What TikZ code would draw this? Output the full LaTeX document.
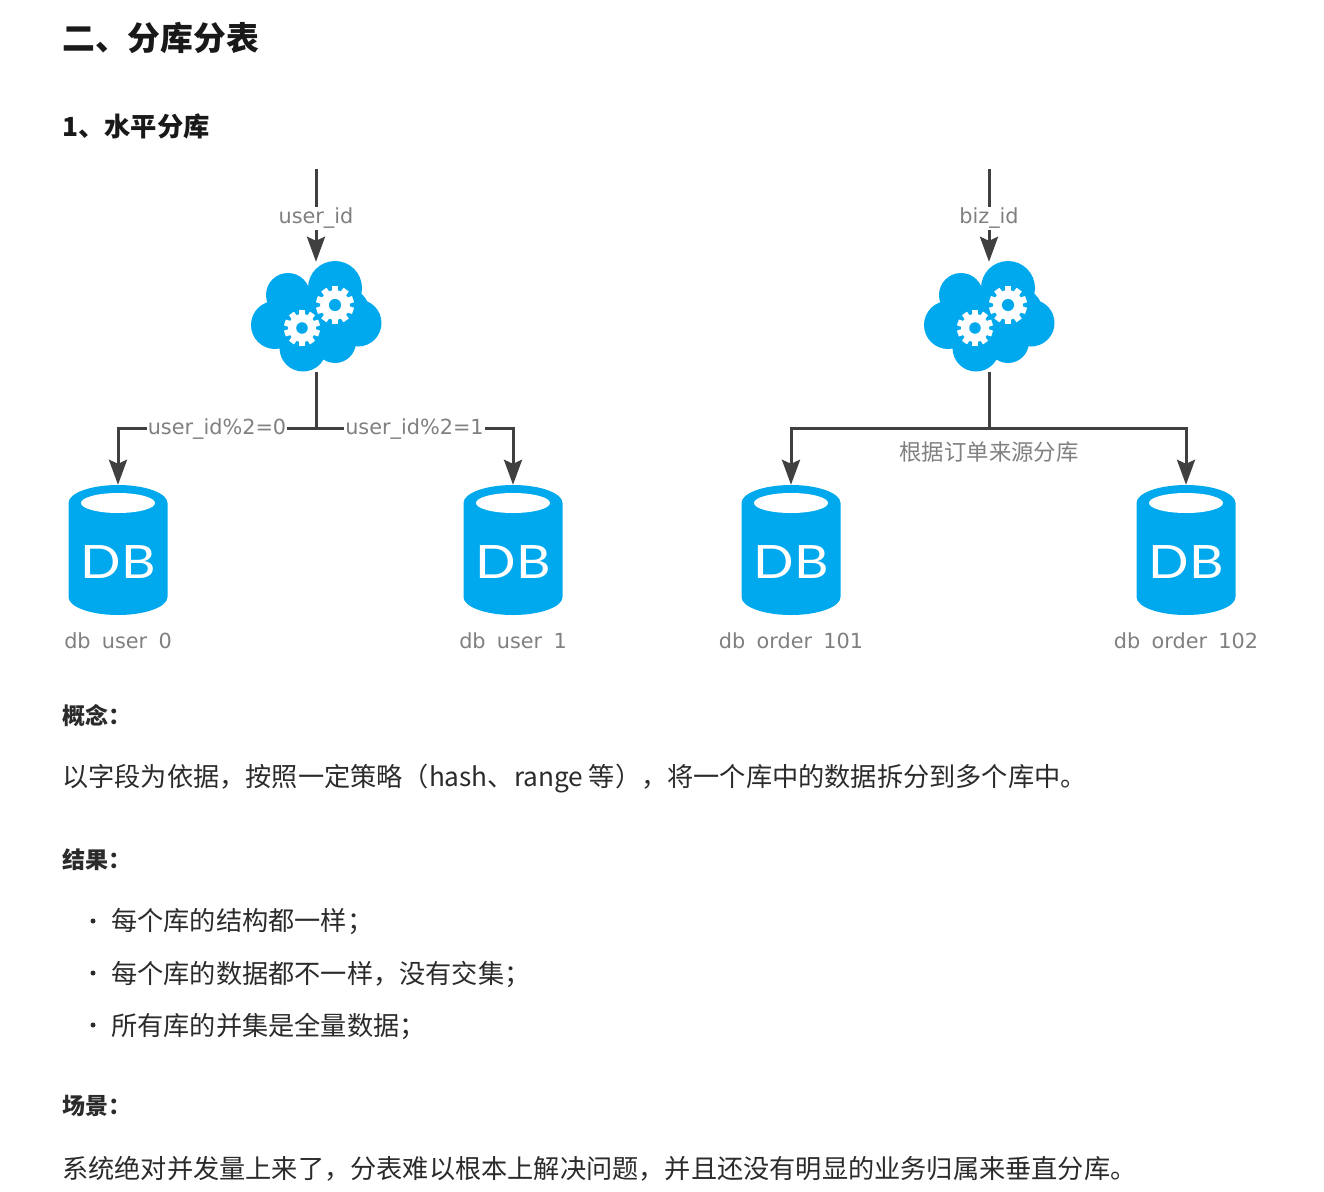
\documentclass[tikz,border=0pt]{standalone}
\usepackage{fontspec}
\setmainfont{Noto Sans CJK SC}
\newfontfamily\labelfont[WordSpace=1.7]{DejaVu Sans}
\newfontfamily\iconfont{Lato}
\usepackage{xcolor}
\usetikzlibrary{arrows.meta, positioning}
\definecolor{iconblue}{HTML}{00A9EE}
\definecolor{labelgray}{HTML}{808080}
\definecolor{bodytext}{HTML}{2B2B2B}
\tikzstyle{cloudbox} = [rectangle, minimum width=130pt, minimum height=110pt, inner sep=0pt]
\tikzstyle{dbbox} = [rectangle, minimum width=99pt, minimum height=130pt, inner sep=0pt, text=white, font=\iconfont\fontsize{46}{46}\selectfont]
\tikzstyle{dbname} = [text=labelgray, font=\labelfont\fontsize{20.8}{20}\selectfont]
\tikzstyle{linelabel} = [fill=white, text=labelgray, inner sep=1pt, font=\labelfont\fontsize{20.8}{20}\selectfont]
\tikzstyle{cnlabel} = [fill=white, text=labelgray, inner sep=1pt, font=\fontsize{22.4}{22}\selectfont]
\tikzstyle{title} = [anchor=west, inner sep=0pt, text=black!90, font=\bfseries\fontsize{32.8}{32}\selectfont]
\tikzstyle{subtitle} = [anchor=west, inner sep=0pt, text=black!90, font=\bfseries\fontsize{26.3}{26}\selectfont]
\tikzstyle{heading} = [anchor=west, inner sep=0pt, text=bodytext, font=\bfseries\fontsize{23}{23}\selectfont]
\tikzstyle{body} = [anchor=west, inner sep=0pt, text=bodytext, font=\fontsize{26.2}{26}\selectfont]
\tikzstyle{dot} = [circle, fill=bodytext, minimum size=5pt, inner sep=0pt]
\tikzstyle{plainline} = [line width=3pt, draw=black!75]
\tikzstyle{arrow} = [line width=3pt, draw=black!75, -{Stealth[length=25pt, width=18pt, inset=4pt]}]

\newcommand{\gearicon}[3]{
	\fill[white] (#1,#2) circle (#3*0.78);
	\foreach \a in {0,36,...,324}
		\fill[white, shift={(#1,#2)}, rotate=\a] (-#3*0.17,0) rectangle (#3*0.17,#3);
	\fill[iconblue] (#1,#2) circle (#3*0.32);
}
\newcommand{\cloudicon}[3]{
	\begin{scope}[shift={(#2,#3)}]
		\fill[iconblue] (-41,8) circle (24) (-28,-22) circle (22) (19,-29) circle (27) (42,6) circle (23.5)
			(-13,31) circle (23.5) (19,25) circle (21) (-22,0) circle (28) (28,-4) circle (26) (0,5) circle (30);
		\gearicon{-14}{11}{18}
		\gearicon{19}{-12}{19}
	\end{scope}
	\node (#1) [cloudbox] at (#2,#3) {};
}
\newcommand{\dbicon}[3]{
	\begin{scope}[shift={(#2,#3)}]
		\fill[iconblue] (-49.5,-47) arc[x radius=49.5, y radius=18, start angle=180, end angle=360]
			-- (49.5,47) arc[x radius=49.5, y radius=18, start angle=0, end angle=180] -- cycle;
		\fill[white] (0,-47) ellipse (37 and 10);
	\end{scope}
	\node (#1) [dbbox] at (#2,#3) {\raisebox{-28pt}[0pt][0pt]{\scalebox{1.16}[1]{DB}}};
}

\begin{document}
\begin{tikzpicture}[x=1pt, y=-1pt, node distance=91pt]
	\useasboundingbox (0,0) rectangle (1324,1191);

	\node (mainTitle) [title] at (62,38) {二、分库分表};
	\node (subTitle) [subtitle] at (62,126) {1、水平分库};

	% left group
	\coordinate (inUser) at (316,169);
	\cloudicon{routeUser}{316}{317}
	\coordinate (splitUser) at (316,428);
	\dbicon{dbUserA}{118}{550}
	\dbicon{dbUserB}{513}{550}
	\node (nameUserA) [dbname, below of=dbUserA] {db user 0};
	\node (nameUserB) [dbname, below of=dbUserB] {db user 1};

	\draw [arrow] (inUser) -- node[linelabel, yshift=-3pt] {user\_id} (routeUser);
	\draw [plainline] (routeUser) -- (splitUser);
	\draw [arrow] (splitUser) -| node[linelabel, pos=0.25, yshift=-1pt] {user\_id\%2=0} (dbUserA);
	\draw [arrow] (splitUser) -| node[linelabel, pos=0.25, yshift=-1pt] {user\_id\%2=1} (dbUserB);

	% right group
	\coordinate (inBiz) at (989,169);
	\cloudicon{routeBiz}{989}{317}
	\coordinate (splitBiz) at (989,428);
	\dbicon{dbOrderA}{791}{550}
	\dbicon{dbOrderB}{1186}{550}
	\node (nameOrderA) [dbname, below of=dbOrderA] {db order 101};
	\node (nameOrderB) [dbname, below of=dbOrderB] {db order 102};

	\draw [arrow] (inBiz) -- node[linelabel, yshift=-3pt] {biz\_id} (routeBiz);
	\draw [plainline] (routeBiz) -- (splitBiz);
	\draw [arrow] (splitBiz) -| (dbOrderA);
	\draw [arrow] (splitBiz) -| (dbOrderB);
	\node (splitNote) [cnlabel] at (989,452) {根据订单来源分库};

	% text below
	\node (headConcept) [heading] at (62,716) {概念^^^^ff1a};
	\node (textConcept) [body] at (62,779) {以字段为依据^^^^ff0c按照一定策略^^^^ff08hash、range 等^^^^ff09^^^^ff0c将一个库中的数据拆分到多个库中。};
	\node (headResult) [heading] at (62,860) {结果^^^^ff1a};
	\node (dotA) [dot] at (93,921) {};
	\node (textA) [body] at (111,922) {每个库的结构都一样^^^^ff1b};
	\node (dotB) [dot] at (93,973) {};
	\node (textB) [body] at (111,974) {每个库的数据都不一样^^^^ff0c没有交集^^^^ff1b};
	\node (dotC) [dot] at (93,1025) {};
	\node (textC) [body] at (111,1026) {所有库的并集是全量数据^^^^ff1b};
	\node (headScene) [heading] at (62,1106) {场景^^^^ff1a};
	\node (textScene) [body] at (62,1169) {系统绝对并发量上来了^^^^ff0c分表难以根本上解决问题^^^^ff0c并且还没有明显的业务归属来垂直分库。};
\end{tikzpicture}
\end{document}
